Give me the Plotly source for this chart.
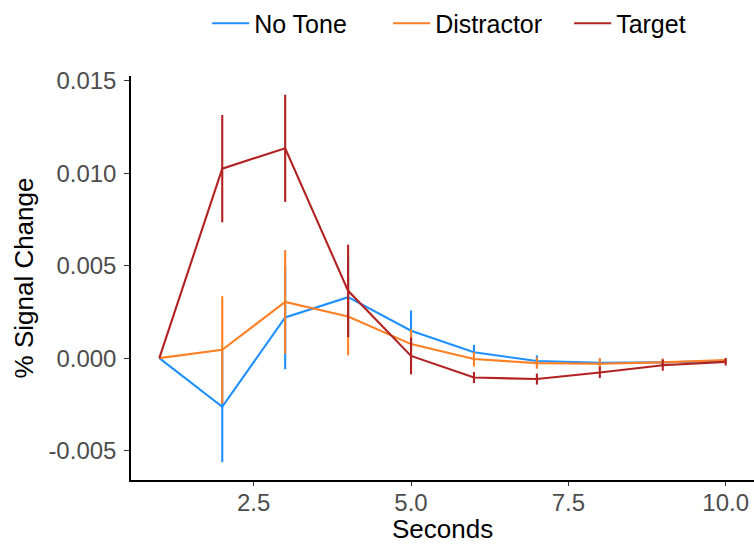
import plotly.graph_objects as go

seconds = [1, 2, 3, 4, 5, 6, 7, 8, 9, 10]

no_tone = [0.0, -0.00263, 0.0022, 0.00330, 0.00148, 0.00032, -0.00015, -0.00025, -0.00023, -0.00015]
no_tone_err = [0.0, 0.0030, 0.0028, 0.0022, 0.0011, 0.0004, 0.0003, 0.0002, 0.0002, 0.0001]

distractor = [0.0, 0.00045, 0.00304, 0.00225, 0.00076, -0.00005, -0.00027, -0.00030, -0.00023, -0.00010]
distractor_err = [0.0, 0.0029, 0.0028, 0.0021, 0.0008, 0.0004, 0.0003, 0.0003, 0.0002, 0.0001]

target = [0.0, 0.01025, 0.01135, 0.00364, 0.00012, -0.00105, -0.00113, -0.00078, -0.00038, -0.00020]
target_err = [0.0, 0.0029, 0.0029, 0.0025, 0.0010, 0.0003, 0.0003, 0.0003, 0.0003, 0.0002]

y_tickvals = [-0.005, 0.0, 0.005, 0.010, 0.015]
y_ticktext = ["-0.005", "0.000", "0.005", "0.010", "0.015"]
x_tickvals = [2.5, 5.0, 7.5, 10.0]
x_title = "Seconds"
y_title = "% Signal Change"

series = [
    ("No Tone", no_tone, no_tone_err, "#1E90FF"),
    ("Distractor", distractor, distractor_err, "#FF7F24"),
    ("Target", target, target_err, "#B22222"),
]

fig = go.Figure()
for name, vals, errs, color in series:
    fig.add_trace(go.Scatter(
        x=seconds, y=vals, name=name, mode="lines",
        line=dict(color=color, width=2.1),
        error_y=dict(type="data", array=errs, visible=True, width=0,
                     thickness=2.1, color=color),
        hoverinfo="skip",
    ))

font_family = "Liberation Sans, Arial, sans-serif"
fig.update_layout(
    width=754, height=545,
    margin=dict(l=131, r=0, t=76, b=65),
    paper_bgcolor="white", plot_bgcolor="white",
    font=dict(family=font_family, color="black", size=24),
    showlegend=True,
    legend=dict(orientation="h", x=0.558, xanchor="center", y=1.13, yanchor="middle",
                font=dict(size=25, color="black", family=font_family), itemwidth=37,
                entrywidth=129, entrywidthmode="pixels",
                bgcolor="rgba(0,0,0,0)"),
    xaxis=dict(
        range=[0.55, 10.45], tickvals=x_tickvals, tickformat=".1f",
        showline=True, linecolor="black", linewidth=1.5,
        ticks="outside", ticklen=4, tickcolor="#333333", tickwidth=1.2,
        showgrid=False, zeroline=False, automargin=False, ticklabelstandoff=-4,
        tickfont=dict(size=24, color="#4D4D4D", family=font_family),
    ),
    yaxis=dict(
        range=[-0.00659, 0.01526], tickvals=y_tickvals, ticktext=y_ticktext,
        showline=True, linecolor="black", linewidth=1.5,
        ticks="outside", ticklen=5, tickcolor="#333333", tickwidth=1.2,
        showgrid=False, zeroline=False, automargin=False, ticklabelstandoff=3,
        tickfont=dict(size=24, color="#4D4D4D", family=font_family),
        title=dict(text=y_title, font=dict(size=26, color="black", family=font_family), standoff=7),
    ),
    annotations=[dict(
        text=x_title, xref="paper", yref="paper", x=0.5, y=0,
        xanchor="center", yanchor="bottom", yshift=-65, showarrow=False,
        borderpad=0,
        font=dict(size=26, color="black", family=font_family),
    )],
)

fig.write_html("out.html")
